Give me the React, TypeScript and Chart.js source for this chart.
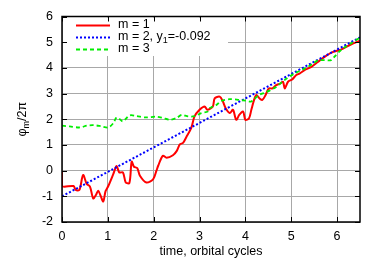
import React, { useEffect, useRef } from "react";
import { Chart, registerables } from "chart.js";

Chart.register(...registerables);

const xTicks = [0, 1, 2, 3, 4, 5, 6];
const yTicks = [-2, -1, 0, 1, 2, 3, 4, 5, 6];

const legendLabels = ["m = 1", "m = 2, y", "m = 3"];
const xTitle = "time, orbital cycles";

const redX = [0, 0, 0.25, 0.3, 0.38, 0.46, 0.54, 0.61, 0.68, 0.74, 0.79, 0.84, 0.9, 0.95, 1.01, 1.12, 1.19, 1.25, 1.33, 1.39, 1.47, 1.52, 1.57, 1.64, 1.7, 1.84, 1.99, 2.06, 2.1, 2.2, 2.28, 2.42, 2.5, 2.57, 2.64, 2.71, 2.82, 2.89, 3.0, 3.11, 3.17, 3.29, 3.33, 3.44, 3.51, 3.57, 3.66, 3.73, 3.8, 3.87, 3.95, 4.0, 4.08, 4.13, 4.2, 4.24, 4.31, 4.37, 4.44, 4.51, 4.59, 4.67, 4.76, 4.82, 4.86, 4.93, 5.02, 5.11, 5.18, 5.29, 5.44, 5.58, 5.72, 5.9, 6.12, 6.3, 6.5];
const redY = [0, -0.6, -0.6, -0.75, -0.75, -0.17, -0.52, -0.62, -1.08, -0.95, -0.78, -0.97, -1.2, -0.8, -0.6, -0.13, 0.18, -0.07, -0.07, -0.46, -0.48, 0.35, 0.15, 0.1, -0.2, -0.46, -0.33, 0, 0.2, 0.58, 0.5, 0.6, 0.76, 1.02, 1.08, 1.3, 1.66, 2.11, 2.37, 2.5, 2.37, 2.5, 2.81, 2.88, 2.69, 2.43, 2.24, 2.37, 1.98, 2.18, 2.3, 1.98, 2.04, 2.37, 2.81, 2.94, 2.81, 2.75, 2.94, 3.2, 3.2, 3.33, 3.39, 3.46, 3.2, 3.46, 3.55, 3.72, 3.78, 3.91, 4.04, 4.23, 4.42, 4.61, 4.74, 4.91, 5.06];

const blueX = [0, 6.5];
const blueY = [-1.0, 5.19];

const greenX = [0, 0.17, 0.39, 0.54, 0.68, 0.85, 1.01, 1.12, 1.19, 1.26, 1.33, 1.48, 1.63, 1.84, 2.06, 2.2, 2.35, 2.5, 2.61, 2.75, 2.89, 3.04, 3.18, 3.22, 3.37, 3.47, 3.66, 3.87, 4.02, 4.13, 4.3, 4.45, 4.67, 4.85, 5.07, 5.29, 5.47, 5.58, 5.72, 5.87, 5.95, 6.1, 6.3, 6.5];
const greenY = [1.75, 1.72, 1.68, 1.75, 1.77, 1.73, 1.68, 1.85, 2.07, 2.0, 1.92, 2.15, 2.12, 2.07, 2.1, 2.05, 1.98, 2.05, 2.17, 2.11, 2.12, 2.24, 2.3, 2.43, 2.56, 2.71, 2.78, 2.75, 2.72, 2.69, 2.95, 3.05, 3.26, 3.52, 3.78, 3.97, 4.16, 4.29, 4.3, 4.3, 4.45, 4.72, 4.95, 5.18];

const FONT = "'Liberation Sans', Arial, sans-serif";

const pts = (xs: number[], ys: number[]) => xs.map((x, i) => ({ x, y: ys[i] }));

const overlay = {
  id: "overlay",
  afterDraw(chart: any) {
    const ctx = chart.ctx as CanvasRenderingContext2D;
    const { left, right, top, bottom } = chart.chartArea;
    const xs = chart.scales.x;
    const ys = chart.scales.y;
    ctx.save();
    ctx.fillStyle = "#fff";
    ctx.fillRect(left + 1, top + 1, 227 - left, 55 - top);
    ctx.strokeStyle = "#000";
    ctx.lineWidth = 1.5;
    ctx.strokeRect(left, top, right - left, bottom - top);
    ctx.lineWidth = 1;
    ctx.beginPath();
    xTicks.forEach((v) => {
      const p = Math.round(xs.getPixelForValue(v)) + 0.5;
      ctx.moveTo(p, bottom);
      ctx.lineTo(p, bottom - 5);
      ctx.moveTo(p, top);
      ctx.lineTo(p, top + 5);
    });
    yTicks.forEach((v) => {
      const p = Math.round(ys.getPixelForValue(v)) + 0.5;
      ctx.moveTo(left, p);
      ctx.lineTo(left + 5, p);
      ctx.moveTo(right, p);
      ctx.lineTo(right - 5, p);
    });
    ctx.stroke();

    const rows = [25, 37, 49];
    const styles = [
      { c: "#ff0000", d: [] as number[], w: 2 },
      { c: "#0000ff", d: [2, 2], w: 2 },
      { c: "#00ee00", d: [4, 3], w: 1.8 },
    ];
    ctx.textBaseline = "middle";
    ctx.textAlign = "left";
    rows.forEach((y, i) => {
      ctx.strokeStyle = styles[i].c;
      ctx.lineWidth = styles[i].w;
      ctx.setLineDash(styles[i].d);
      ctx.beginPath();
      ctx.moveTo(76, y + 0.5);
      ctx.lineTo(110, y + 0.5);
      ctx.stroke();
      ctx.setLineDash([]);
      ctx.fillStyle = "#000";
      ctx.font = `12.5px ${FONT}`;
      ctx.fillText(legendLabels[i], 118, y);
      if (i === 1) {
        let xx = 118 + ctx.measureText(legendLabels[i]).width;
        ctx.font = `9px ${FONT}`;
        ctx.fillText("1", xx, y + 4);
        xx += ctx.measureText("1").width;
        ctx.font = `12.5px ${FONT}`;
        ctx.fillText("=-0.092", xx, y);
      }
    });

    ctx.font = `12.5px ${FONT}`;
    ctx.textAlign = "center";
    ctx.fillStyle = "#000";
    ctx.fillText(xTitle, (left + right) / 2, 252);

    ctx.save();
    ctx.translate(23, (top + bottom) / 2);
    ctx.rotate(-Math.PI / 2);
    ctx.textAlign = "left";
    ctx.font = `12.5px ${FONT}`;
    const w1 = ctx.measureText("φ").width;
    const w3 = ctx.measureText("/2π").width;
    ctx.font = `9px ${FONT}`;
    const w2 = ctx.measureText("m").width;
    let sx = -(w1 + w2 + w3) / 2;
    ctx.font = `12.5px ${FONT}`;
    ctx.fillText("φ", sx, 0);
    sx += w1;
    ctx.font = `9px ${FONT}`;
    ctx.fillText("m", sx, 4);
    sx += w2;
    ctx.font = `12.5px ${FONT}`;
    ctx.fillText("/2π", sx, 0);
    ctx.restore();

    ctx.restore();
  },
};

export default function App() {
  const ref = useRef<HTMLCanvasElement>(null);
  useEffect(() => {
    if (!ref.current) return;
    const chart = new Chart(ref.current, {
      type: "line",
      data: {
        datasets: [
          { label: "m = 1", data: pts(redX, redY), borderColor: "#ff0000", borderWidth: 2, pointRadius: 0, tension: 0.3, order: 3 },
          { label: "m = 2", data: pts(blueX, blueY), borderColor: "#0000ff", borderWidth: 2, borderDash: [2, 2], pointRadius: 0, tension: 0, order: 2 },
          { label: "m = 3", data: pts(greenX, greenY), borderColor: "#00ee00", borderWidth: 1.8, borderDash: [4, 3], pointRadius: 0, tension: 0.3, order: 1 },
        ],
      },
      options: {
        responsive: false,
        animation: false,
        layout: { padding: { top: 14, right: 14, left: 0, bottom: 0 } },
        plugins: { legend: { display: false }, tooltip: { enabled: false } },
        scales: {
          x: {
            type: "linear",
            min: 0,
            max: 6.5,
            afterBuildTicks: (s: any) => { s.ticks = xTicks.map((v) => ({ value: v })); },
            afterFit: (s: any) => { s.height = 39; },
            grid: { color: "#a8a8a8", borderDash: [1, 2], drawTicks: false, lineWidth: 1 },
            border: { display: false },
            ticks: { padding: 7, color: "#000", font: { family: FONT, size: 12.5 }, maxRotation: 0 },
          },
          y: {
            type: "linear",
            min: -2,
            max: 6,
            afterBuildTicks: (s: any) => { s.ticks = yTicks.map((v) => ({ value: v })); },
            afterFit: (s: any) => { s.width = 62; },
            grid: { color: "#a8a8a8", borderDash: [1, 2], drawTicks: false, lineWidth: 1 },
            border: { display: false },
            ticks: { padding: 9, color: "#000", font: { family: FONT, size: 12.5 } },
          },
        },
      },
      plugins: [overlay],
    } as any);
    return () => chart.destroy();
  }, []);
  return (
    <div style={{ position: "absolute", left: 0, top: 0, width: 374, height: 261, background: "#fff" }}>
      <canvas ref={ref} width={374} height={261} style={{ display: "block" }} />
    </div>
  );
}
